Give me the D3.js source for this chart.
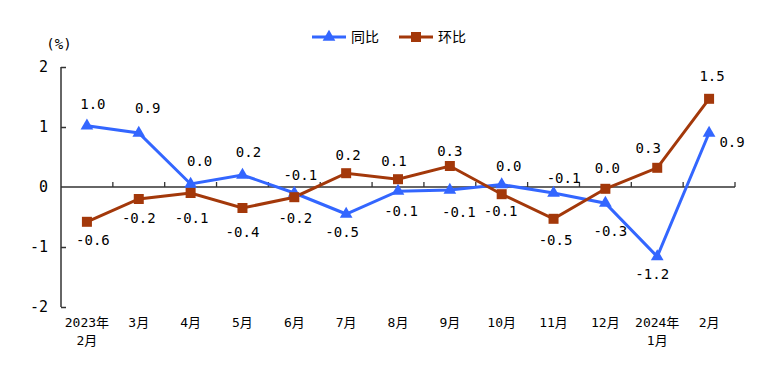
<!DOCTYPE html>
<html><head><meta charset="utf-8">
<script src="https://cdn.jsdelivr.net/npm/d3@7"></script>
<style>body{margin:0;background:#fff;}svg{display:block;}</style>
</head><body>
<svg id="c" width="763" height="376"></svg>
<script>
const categories = ["2023年\n2月","3月","4月","5月","6月","7月","8月","9月","10月","11月","12月","2024年\n1月","2月"];
const yoyValues = [1.02, 0.9, 0.05, 0.2, -0.1, -0.45, -0.07, -0.05, 0.04, -0.1, -0.27, -1.16, 0.9];
const yoyLabels = ["1.0","0.9","0.0","0.2","-0.1","-0.5","-0.1","-0.1","0.0","-0.1","-0.3","-1.2","0.9"];
const momValues = [-0.58, -0.2, -0.1, -0.35, -0.17, 0.23, 0.13, 0.35, -0.12, -0.53, -0.03, 0.32, 1.47];
const momLabels = ["-0.6","-0.2","-0.1","-0.4","-0.2","0.2","0.1","0.3","-0.1","-0.5","0.0","0.3","1.5"];
const yTicks = [2, 1, 0, -1, -2];
const seriesNames = ["同比", "环比"];

// label offsets (layout only)
const yoyOff = [[6,-22],[9,-25],[9,-23],[6,-23],[6,-18],[-4,18],[3,20],[9,22],[7,-19],[10,-15],[5,28],[-5,17],[23,9]];
const momOff = [[6,18],[0,19],[1,25],[0,24],[1,21],[2,-18],[-4,-18],[0,-15],[-1,17],[2,21],[2,-21],[-9,-20],[3,-23]];

const svg = d3.select("#c");
const numFont = "'DejaVu Sans Mono','Noto Sans CJK SC',monospace";
const cjkFont = "'Noto Sans CJK SC','DejaVu Sans',sans-serif";
const blue = "#3366ff", brown = "#a3380a";

const x = d3.scaleBand().domain(d3.range(categories.length)).range([61, 735]);
const y = d3.scaleLinear().domain([-2, 2]).range([307, 67]);
const cx = i => x(i) + x.bandwidth()/2;

// y axis
const yAxis = d3.axisRight(y).tickValues(yTicks).tickSize(5).tickFormat("");
const gy = svg.append("g").attr("transform","translate(61,0)").call(yAxis);
gy.select(".domain").attr("d", `M0,${y(2)}V${y(-2)}`).attr("stroke","#333").attr("stroke-width",1.5);
gy.selectAll(".tick line").attr("stroke","#333").attr("stroke-width",1.5);
gy.selectAll(".tick").filter(d=>d===0).remove();
svg.append("g").selectAll("text").data(yTicks).join("text")
  .attr("x", 48).attr("y", d=>y(d)+5).attr("text-anchor","end")
  .attr("font-family", numFont).attr("font-size", 15).attr("fill","#000")
  .text(d=> d<0 ? "-"+Math.abs(d) : d);
svg.append("text").attr("x", 59).attr("y", 49).attr("text-anchor","middle")
  .attr("font-family", numFont).attr("font-size", 14).text("(%)");

// zero axis with category boundary ticks pointing up
const boundaries = d3.range(1, categories.length+1).map(i => 61 + i*x.bandwidth());
const g0 = svg.append("g");
g0.append("line").attr("x1",61).attr("x2",735).attr("y1",y(0)).attr("y2",y(0)).attr("stroke","#333").attr("stroke-width",1.3);
g0.selectAll("line.t").data(boundaries).join("line").attr("class","t")
  .attr("x1",d=>d).attr("x2",d=>d).attr("y1",y(0)).attr("y2",y(0)-5).attr("stroke","#333").attr("stroke-width",1.3);

// x labels
const xl = svg.append("g").selectAll("text").data(categories).join("text")
  .attr("text-anchor","middle").attr("font-family", numFont).attr("font-size", 13).attr("fill","#000");
xl.each(function(d,i){
  const parts = d.split("\n");
  d3.select(this).selectAll("tspan").data(parts).join("tspan")
    .attr("x", cx(i)).attr("y",(p,j)=>327 + j*18).text(p=>p);
});

// lines
const line = d3.line().x((d,i)=>cx(i)).y(d=>y(d));
svg.append("path").datum(yoyValues).attr("d", line).attr("fill","none").attr("stroke",blue).attr("stroke-width",3);
svg.append("path").datum(momValues).attr("d", line).attr("fill","none").attr("stroke",brown).attr("stroke-width",3);

const tri = d3.symbol().type(d3.symbolTriangle).size(70);
svg.append("g").selectAll("path").data(yoyValues).join("path")
  .attr("d", tri).attr("transform",(d,i)=>`translate(${cx(i)},${y(d)})`).attr("fill",blue);
svg.append("g").selectAll("rect").data(momValues).join("rect")
  .attr("x",(d,i)=>cx(i)-5).attr("y",d=>y(d)-5).attr("width",10).attr("height",10).attr("fill",brown);

// data labels
function labels(vals, labs, off){
  svg.append("g").selectAll("text").data(vals).join("text")
    .attr("x",(d,i)=>cx(i)+off[i][0]).attr("y",(d,i)=>y(d)+off[i][1]+5)
    .attr("text-anchor","middle").attr("font-family", numFont).attr("font-size",14).attr("fill","#000")
    .text((d,i)=>labs[i]);
}
labels(yoyValues, yoyLabels, yoyOff);
labels(momValues, momLabels, momOff);

// legend
const lg = svg.append("g");
lg.append("line").attr("x1",312).attr("x2",346).attr("y1",37).attr("y2",37).attr("stroke",blue).attr("stroke-width",3);
lg.append("path").attr("d",tri).attr("transform","translate(329,37)").attr("fill",blue);
lg.append("text").attr("x",351).attr("y",42).attr("font-family",cjkFont).attr("font-size",14).text(seriesNames[0]);
lg.append("line").attr("x1",399).attr("x2",433).attr("y1",37).attr("y2",37).attr("stroke",brown).attr("stroke-width",3);
lg.append("rect").attr("x",411).attr("y",32).attr("width",10).attr("height",10).attr("fill",brown);
lg.append("text").attr("x",438).attr("y",42).attr("font-family",cjkFont).attr("font-size",14).text(seriesNames[1]);
</script>
</body></html>
